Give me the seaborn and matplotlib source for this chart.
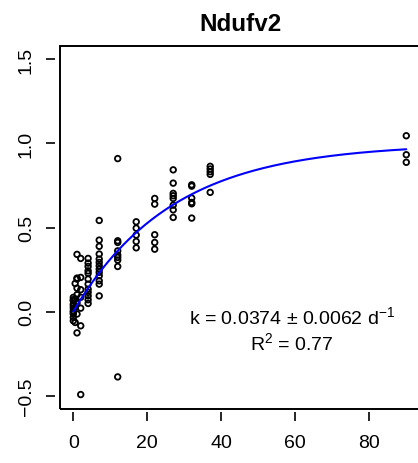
import numpy as np
import pandas as pd
import matplotlib
matplotlib.use("Agg")
import matplotlib.pyplot as plt
from matplotlib.patches import Rectangle
import seaborn as sns

# ---- data ----
t0 = [0, 0, 0, 0, 0, 0, 0, 0, 0, 0, 0]
v0 = [0.084, 0.064, 0.044, 0.034, 0.004, -0.015, -0.035, -0.055, 0.02, -0.005, 0.07]
t05 = [0.5, 0.5, 0.5, 0.5]
v05 = [0.167, 0.074, 0.024, -0.065]
t1 = [1, 1, 1, 1, 1, 1, 1, 1]
v1 = [0.34, 0.199, 0.139, 0.193, -0.127, 0.05, -0.015, 0.10]
t2 = [2, 2, 2, 2, 2, 2, 2]
v2 = [0.316, 0.203, 0.085, -0.085, -0.494, 0.02, 0.13]
v4 = [0.316, 0.288, 0.268, 0.242, 0.227, 0.193, 0.163, 0.133, 0.114, 0.093, 0.070, 0.048]
v7 = [0.542, 0.425, 0.388, 0.342, 0.312, 0.292, 0.272, 0.252, 0.233, 0.213, 0.183, 0.163, 0.093]
v12 = [0.91, 0.421, 0.411, 0.361, 0.336, 0.322, 0.306, 0.268, -0.389]
v17 = [0.534, 0.496, 0.455, 0.417, 0.379]
v22 = [0.673, 0.639, 0.457, 0.411, 0.371]
v27 = [0.843, 0.764, 0.703, 0.689, 0.673, 0.633, 0.605, 0.560]
v32 = [0.754, 0.746, 0.675, 0.649, 0.641, 0.556]
v37 = [0.864, 0.848, 0.832, 0.816, 0.709]
v90 = [1.046, 0.933, 0.888]

k_rate = 0.0374
k_err = 0.0062
plateau = 1.0
r2 = 0.77
title = "Ndufv2"
xticks = [0, 20, 40, 60, 80]
yticks = [-0.5, 0.0, 0.5, 1.0, 1.5]

time = (t0 + t05 + t1 + t2 + [4] * len(v4) + [7] * len(v7) + [12] * len(v12)
        + [17] * len(v17) + [22] * len(v22) + [27] * len(v27) + [32] * len(v32)
        + [37] * len(v37) + [90] * len(v90))
value = (v0 + v05 + v1 + v2 + v4 + v7 + v12 + v17 + v22 + v27 + v32 + v37 + v90)
df = pd.DataFrame({"time": time, "value": value})

tfit = np.linspace(0, 90, 200)
fit = pd.DataFrame({"time": tfit, "value": plateau * (1 - np.exp(-k_rate * tfit))})

# ---- style ----
sns.set_style("white")
plt.rcParams["font.family"] = ["Liberation Sans", "DejaVu Sans"]
plt.rcParams["mathtext.fontset"] = "custom"
plt.rcParams["mathtext.rm"] = "Liberation Sans"
plt.rcParams["mathtext.it"] = "Liberation Sans"
plt.rcParams["text.color"] = "black"
plt.rcParams["xtick.color"] = "black"
plt.rcParams["ytick.color"] = "black"
plt.rcParams["axes.labelcolor"] = "black"

W, H = 418, 464
fig = plt.figure(figsize=(W / 100, H / 100), dpi=100)
ax = fig.add_axes([60 / W, (H - 410) / H, 359.6 / W, 363 / H])

sns.scatterplot(data=df, x="time", y="value", ax=ax, marker="o",
                facecolor="none", edgecolor="black", linewidth=1.3, s=16, legend=False)
sns.lineplot(data=fit, x="time", y="value", ax=ax, color="#0000FF", linewidth=1.5)

ax.set_xlim(-3.6, 93.6)
ax.set_ylim(-0.58, 1.58)
ax.set_xticks(xticks)
ax.set_xticklabels([str(x) for x in xticks])
ax.set_yticks(yticks)
ax.set_yticklabels([f"{y:.1f}".replace("-", "\u2212") for y in yticks])
ax.set_xlabel("")
ax.set_ylabel("")

for s in ax.spines.values():
    s.set_visible(False)
ax.spines["left"].set_position(("outward", 3.5))
ax.spines["bottom"].set_position(("outward", 2.5))
ax.add_patch(Rectangle((0, 0), 1, 1, transform=ax.transAxes, fill=False,
                       edgecolor="black", linewidth=1.4, clip_on=False, zorder=5))
ax.tick_params(axis="both", direction="out", length=6.5, width=1.2,
               colors="black", labelsize=14, labelcolor="black", left=True, bottom=True)
ax.tick_params(axis="y", pad=8, labelrotation=90)
ax.tick_params(axis="x", pad=9)
for lab in ax.get_yticklabels():
    lab.set_verticalalignment("center")
    lab.set_horizontalalignment("right")

ax.text(59.0, -0.069, r"k = 0.0374 $\pm$ 0.0062 d$^{-1}$", ha="center",
        va="baseline", fontsize=14, color="black")
ax.text(59.0, -0.224, r"R$^{2}$ = 0.77", ha="center", va="baseline",
        fontsize=14, color="black")

fig.text(241 / W, 1 - 31 / H, title, ha="center", va="baseline",
         fontsize=17.5, fontweight="bold", color="black")

fig.savefig("out.png", dpi=100)
